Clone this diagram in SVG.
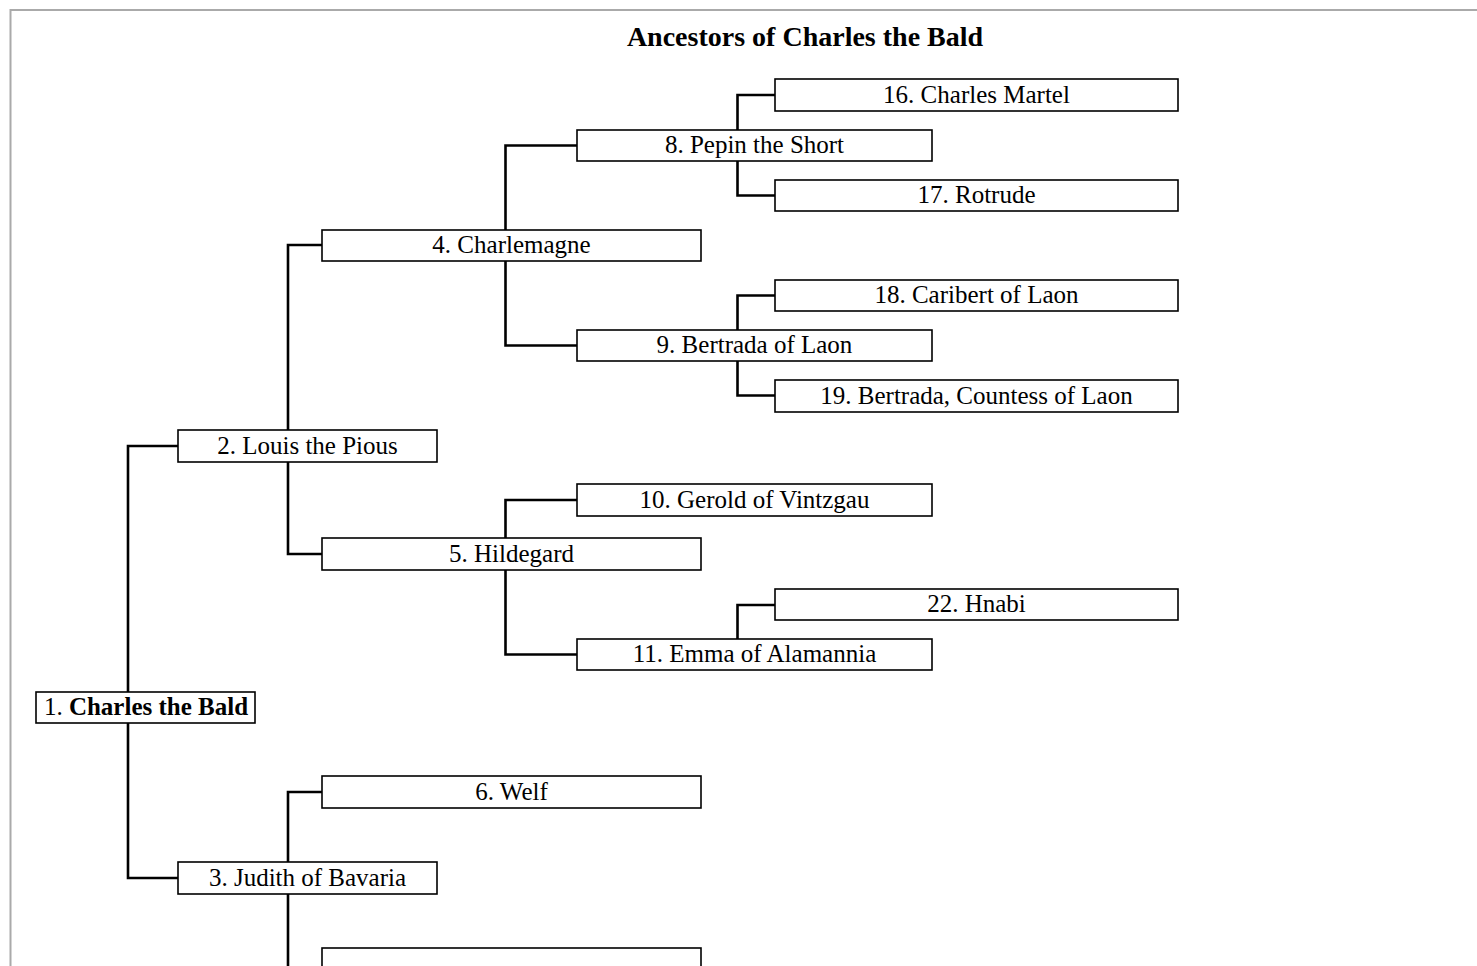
<svg xmlns="http://www.w3.org/2000/svg" width="1477" height="966" viewBox="0 0 1477 966">
<style>
.frame{fill:none;stroke:#aaaaaa;stroke-width:2}
.box{fill:#ffffff;stroke:#000000;stroke-width:1.6}
.lbl{font-family:"Liberation Serif","Times New Roman",serif;font-size:25px;fill:#000000;text-anchor:middle}
.title{font-family:"Liberation Serif","Times New Roman",serif;font-size:28px;font-weight:bold;fill:#000000;text-anchor:middle}
.conn{fill:none;stroke:#000000;stroke-width:2.6}
</style>
<rect x="0" y="0" width="1477" height="966" fill="#ffffff"/>
<rect class="frame" x="10.5" y="10" width="1500" height="1000"/>
<text class="title" x="805" y="46">Ancestors of Charles the Bald</text>
<g id="connectors">
<path class="conn" d="M178,446 H128 V707 M128,707 V878 H178"/>
<path class="conn" d="M322,245 H288 V446 M288,446 V554 H322"/>
<path class="conn" d="M322,792 H288 V878 M288,878 V970"/>
<path class="conn" d="M577,145.5 H505.5 V245 M505.5,245 V345.5 H577"/>
<path class="conn" d="M577,500 H505.5 V554 M505.5,554 V654.5 H577"/>
<path class="conn" d="M775,95 H737.5 V145 M737.5,145 V195.5 H775"/>
<path class="conn" d="M775,295.5 H737.5 V345 M737.5,345 V395.5 H775"/>
<path class="conn" d="M775,605 H737.5 V654"/>
</g>
<g id="n1"><rect class="box" x="36" y="692" width="219" height="31"/><text class="lbl" x="146" y="715">1. <tspan font-weight="bold">Charles the Bald</tspan></text></g>
<g id="n2"><rect class="box" x="178" y="430" width="259" height="32"/><text class="lbl" x="307.5" y="454">2. Louis the Pious</text></g>
<g id="n3"><rect class="box" x="178" y="862" width="259" height="32"/><text class="lbl" x="307.5" y="886">3. Judith of Bavaria</text></g>
<g id="n4"><rect class="box" x="322" y="230" width="379" height="31"/><text class="lbl" x="511.5" y="253">4. Charlemagne</text></g>
<g id="n5"><rect class="box" x="322" y="538" width="379" height="32"/><text class="lbl" x="511.5" y="562">5. Hildegard</text></g>
<g id="n6"><rect class="box" x="322" y="776" width="379" height="32"/><text class="lbl" x="511.5" y="800">6. Welf</text></g>
<g id="n7"><rect class="box" x="322" y="948" width="379" height="32"/></g>
<g id="n8"><rect class="box" x="577" y="130" width="355" height="31"/><text class="lbl" x="754.5" y="153">8. Pepin the Short</text></g>
<g id="n9"><rect class="box" x="577" y="330" width="355" height="31"/><text class="lbl" x="754.5" y="353">9. Bertrada of Laon</text></g>
<g id="n10"><rect class="box" x="577" y="484" width="355" height="32"/><text class="lbl" x="754.5" y="508">10. Gerold of Vintzgau</text></g>
<g id="n11"><rect class="box" x="577" y="639" width="355" height="31"/><text class="lbl" x="754.5" y="662">11. Emma of Alamannia</text></g>
<g id="n16"><rect class="box" x="775" y="79" width="403" height="32"/><text class="lbl" x="976.5" y="103">16. Charles Martel</text></g>
<g id="n17"><rect class="box" x="775" y="180" width="403" height="31"/><text class="lbl" x="976.5" y="203">17. Rotrude</text></g>
<g id="n18"><rect class="box" x="775" y="280" width="403" height="31"/><text class="lbl" x="976.5" y="303">18. Caribert of Laon</text></g>
<g id="n19"><rect class="box" x="775" y="380" width="403" height="32"/><text class="lbl" x="976.5" y="404">19. Bertrada, Countess of Laon</text></g>
<g id="n22"><rect class="box" x="775" y="589" width="403" height="31"/><text class="lbl" x="976.5" y="612">22. Hnabi</text></g>
</svg>
